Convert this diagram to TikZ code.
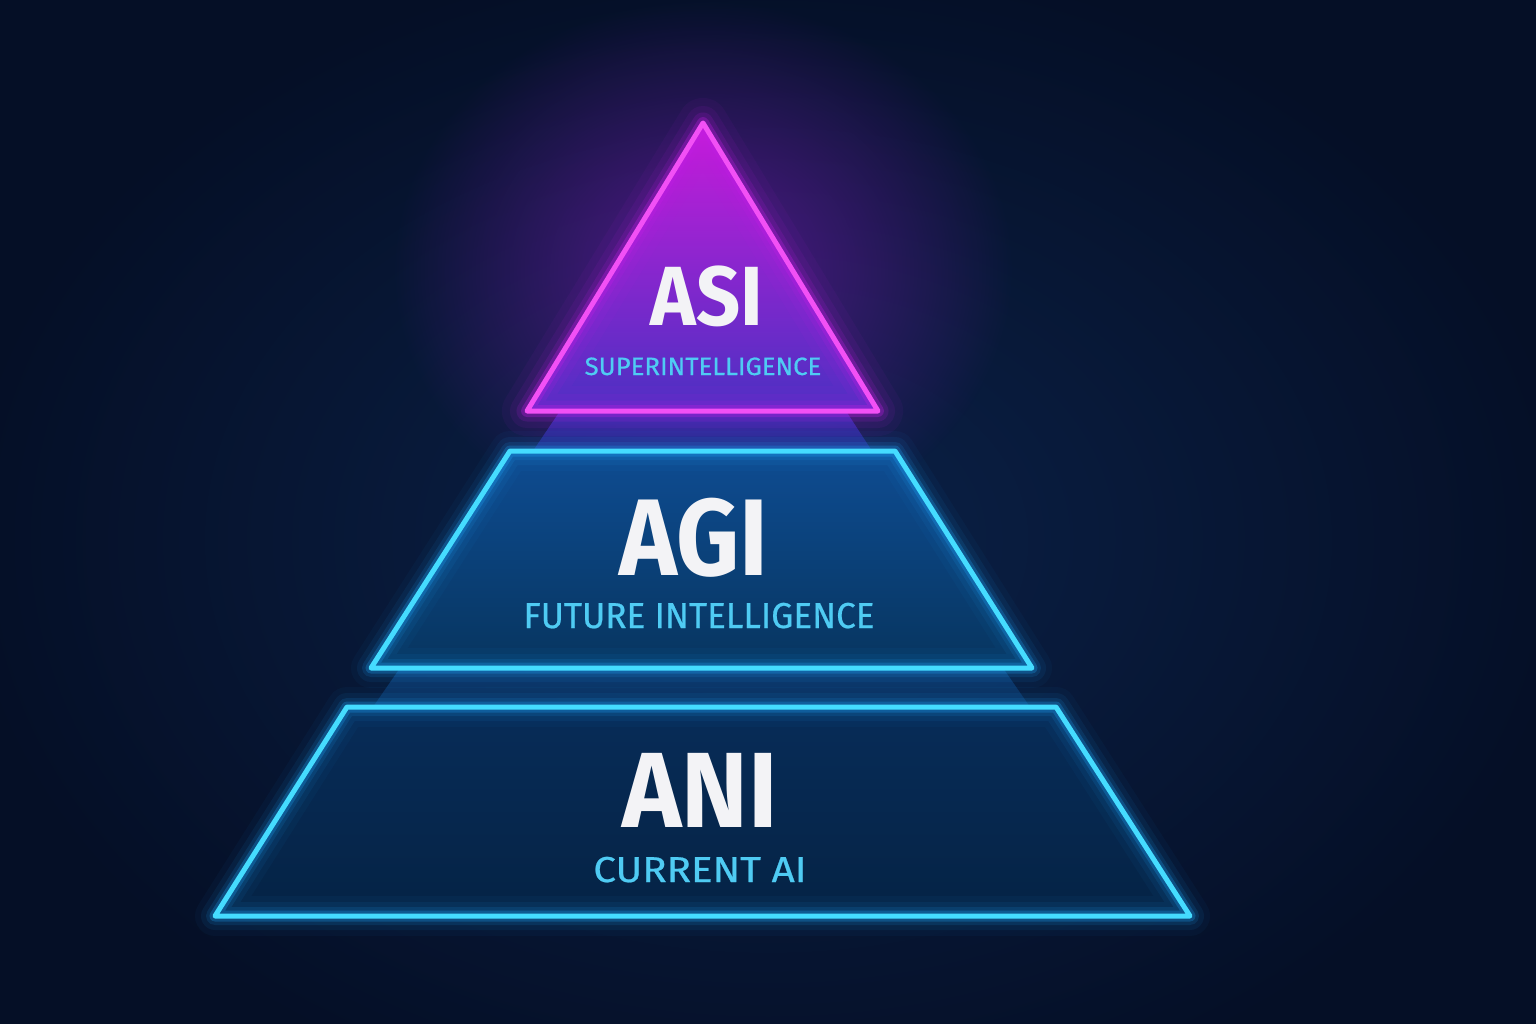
\documentclass[tikz,border=0pt]{standalone}
\usepackage{fontspec}
\setmainfont{Fira Sans}
\newfontfamily\subfont[FakeBold=0.6]{Fira Sans}
\usetikzlibrary{fadings}
\tikzfading[name=softglow, inner color=transparent!0, outer color=transparent!100]
\definecolor{bg}{HTML}{050F26}
\definecolor{bgmid}{HTML}{0B2249}
\definecolor{mag}{HTML}{F250F5}
\definecolor{magglow}{HTML}{C21CE6}
\definecolor{haze}{HTML}{7A1AB8}
\definecolor{cyanl}{HTML}{45DCFF}
\definecolor{cyanglow}{HTML}{1FA8FF}
\definecolor{subc}{HTML}{4FCBF3}
\definecolor{txt}{HTML}{F3F3F6}
\definecolor{triTop}{HTML}{C81CDA}
\definecolor{triMid}{HTML}{9624CC}
\definecolor{triBot}{HTML}{4A30C2}
\definecolor{midTop}{HTML}{0E4C92}
\definecolor{midBot}{HTML}{07355F}
\definecolor{botTop}{HTML}{072C58}
\definecolor{botBot}{HTML}{052345}
\definecolor{beamA}{HTML}{3A36C8}
\definecolor{beamB}{HTML}{0D3F78}
\tikzset{
  title/.style={text=txt, inner sep=0pt, anchor=base},
  subtitle/.style={text=subc, inner sep=0pt, anchor=base},
  edgemain/.style={line width=5pt, line join=round},
}
\begin{document}
\begin{tikzpicture}[x=1pt,y=-1pt]
\useasboundingbox (0,0) rectangle (1536,1024);
\fill[bg] (0,0) rectangle (1536,1024);
\fill[bgmid, path fading=softglow] (768,540) ellipse (820 and 600);
\fill[haze, opacity=0.65, path fading=softglow] (703,270) ellipse (310 and 270);
% coordinates
\coordinate (tA) at (703,123);
\coordinate (tL) at (527,411);
\coordinate (tR) at (878,411);
\coordinate (mTL) at (510,451);
\coordinate (mTR) at (895,451);
\coordinate (mBR) at (1032,668);
\coordinate (mBL) at (371,668);
\coordinate (bTL) at (347,707);
\coordinate (bTR) at (1056,707);
\coordinate (bBR) at (1190,916);
\coordinate (bBL) at (215,916);
% beams between layers
\shade[top color=beamA, bottom color=beamA!60!bg, opacity=0.8] (560,411) -- (846,411) -- (872,451) -- (533,451) -- cycle;
\shade[top color=beamB, bottom color=beamB!70!bg, opacity=0.8] (400,668) -- (1003,668) -- (1030,707) -- (373,707) -- cycle;
% bottom layer
\shade[top color=botTop, bottom color=botBot] (bTL) -- (bTR) -- (bBR) -- (bBL) -- cycle;
\foreach \w/\o in {40/0.04,28/0.07,18/0.12,11/0.25}
  \draw[cyanglow, line width=\w pt, opacity=\o, line join=round] (bTL) -- (bTR) -- (bBR) -- (bBL) -- cycle;
\draw[cyanl, edgemain] (bTL) -- (bTR) -- (bBR) -- (bBL) -- cycle;
% middle layer
\shade[top color=midTop, bottom color=midBot] (mTL) -- (mTR) -- (mBR) -- (mBL) -- cycle;
\foreach \w/\o in {40/0.04,28/0.07,18/0.12,11/0.25}
  \draw[cyanglow, line width=\w pt, opacity=\o, line join=round] (mTL) -- (mTR) -- (mBR) -- (mBL) -- cycle;
\draw[cyanl, edgemain] (mTL) -- (mTR) -- (mBR) -- (mBL) -- cycle;
% top triangle
\shade[top color=triTop, middle color=triMid, bottom color=triBot] (tA) -- (tR) -- (tL) -- cycle;
\foreach \w/\o in {50/0.05,34/0.08,21/0.14,12/0.3}
  \draw[magglow, line width=\w pt, opacity=\o, line join=round] (tA) -- (tR) -- (tL) -- cycle;
\draw[mag, edgemain] (tA) -- (tR) -- (tL) -- cycle;
% texts
\node[title, font=\fontsize{84}{84}\selectfont\bfseries] (asi) at (707,325) {\scalebox{0.92}[1]{ASI}};
\node[subtitle, font=\fontsize{25}{25}\subfont] (asisub) at (703,375) {\scalebox{1.03}[1]{SUPERINTELLIGENCE}};
\node[title, font=\fontsize{109}{109}\selectfont\bfseries] (agi) at (694,575) {\scalebox{0.9}[1]{AGI}};
\node[subtitle, font=\fontsize{36}{36}\subfont] (agisub) at (699,628) {\scalebox{0.975}[1]{FUTURE INTELLIGENCE}};
\node[title, font=\fontsize{107}{107}\selectfont\bfseries] (ani) at (700,827) {\scalebox{0.94}[1]{ANI}};
\node[subtitle, font=\fontsize{36}{36}\subfont] (anisub) at (700,882) {\scalebox{1.12}[1]{CURRENT AI}};
\end{tikzpicture}
\end{document}
